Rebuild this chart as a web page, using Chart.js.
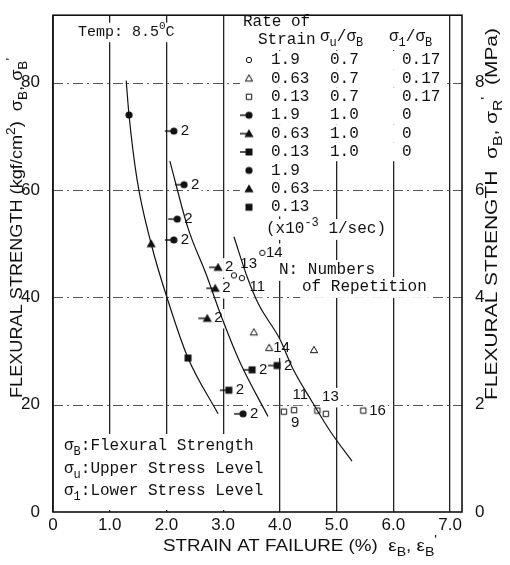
<!DOCTYPE html>
<html>
<head>
<meta charset="utf-8">
<script src="https://cdn.jsdelivr.net/npm/chart.js@4.4.1/dist/chart.umd.min.js"></script>
<style>
  body { margin: 0; background: #fff; }
  canvas { display: block; }
</style>
</head>
<body>
<canvas id="grafica" width="510" height="565"></canvas>
<script>
// ---- datos ----
// curvas ajustadas (a mano en el original)
const curvaAX = [1.29, 1.34, 1.48, 1.73, 2.06, 2.38, 2.91];
const curvaAY = [80.4, 74.0, 62.1, 50.0, 38.3, 28.7, 18.3];
const curvaBX = [2.06, 2.38, 2.70, 2.98, 3.30, 3.79];
const curvaBY = [65.4, 52.9, 44.3, 36.1, 27.8, 17.8];
const curvaCX = [3.19, 3.42, 3.62, 4.00, 4.22, 4.57, 4.89, 5.27];
const curvaCY = [51.3, 43.9, 38.8, 32.2, 26.9, 20.5, 15.0, 9.5];

// sigma_u/sigma_B = 0.7, sigma_1/sigma_B = 0.17 (simbolos huecos)
const circAbiertoX = [3.19, 3.33, 3.69];
const circAbiertoY = [44.1, 43.6, 48.3];
const triAbiertoX = [3.54, 3.81, 4.60];
const triAbiertoY = [33.5, 30.6, 30.2];
const cuadAbiertoX = [4.07, 4.25, 4.66, 4.81, 5.47];
const cuadAbiertoY = [18.7, 19.0, 18.9, 18.3, 18.9];

// sigma_u/sigma_B = 1.0, sigma_1/sigma_B = 0 (rellenos con rayita)
const circRayaX = [2.13, 2.31, 2.19, 2.13, 3.35];
const circRayaY = [71.0, 61.0, 54.6, 50.7, 18.3];
const circRayaN = [2, 2, 2, 2, 2];
const triRayaX = [2.91, 2.86, 2.72];
const triRayaY = [45.6, 41.7, 36.1];
const triRayaN = [2, 2, 2];
const cuadRayaX = [3.10, 3.51, 3.95];
const cuadRayaY = [22.7, 26.5, 27.3];
const cuadRayaN = [2, 2, 2];

// estaticos (rellenos)
const circLlenoX = [1.34], circLlenoY = [74.0];
const triLlenoX = [1.73], triLlenoY = [50.0];
const cuadLlenoX = [2.38], cuadLlenoY = [28.7];

// numeros de repeticion de los simbolos huecos
const notaTexto = ['13', '14', '11', '14', '11', '13', '9', '16'];
const notaX = [3.45, 3.90, 3.60, 4.03, 4.36, 4.89, 4.27, 5.72];
const notaY = [46.2, 48.3, 41.9, 30.6, 21.8, 21.4, 16.6, 18.9];

// ejes
const ticksX = [0, 1, 2, 3, 4, 5, 6, 7];
const ticksY = [0, 20, 40, 60, 80];
const ticksY2 = [0, 2, 4, 6, 8];

// tabla de leyenda
const leyendaVel = ['1.9', '0.63', '0.13', '1.9', '0.63', '0.13', '1.9', '0.63', '0.13'];
const leyendaSu = ['0.7', '0.7', '0.7', '1.0', '1.0', '1.0', '', '', ''];
const leyendaS1 = ['0.17', '0.17', '0.17', '0', '0', '0', '', '', ''];

const TINTA = '#111';
const pts = (xs, ys) => xs.map((x, i) => ({ x: x, y: ys[i] }));

// ---- marcadores ----
const marcador = (forma, lleno, raya) => {
    const c = document.createElement('canvas');
    c.width = 26; c.height = 26;
    const g = c.getContext('2d');
    const m = 13;
    g.strokeStyle = TINTA; g.fillStyle = TINTA;
    g.lineWidth = lleno ? 1.4 : 1;
    if (raya) {
        g.beginPath(); g.moveTo(m - 9, m); g.lineTo(m, m); g.stroke();
    }
    g.beginPath();
    if (forma === 'circ') {
        g.arc(m, m, lleno ? 3.6 : 2.7, 0, Math.PI * 2);
    } else if (forma === 'tri') {
        const r = lleno ? 4.6 : 3.6;
        g.moveTo(m, m - r); g.lineTo(m + r, m + r * 0.75); g.lineTo(m - r, m + r * 0.75); g.closePath();
    } else {
        const r = lleno ? 3.5 : 2.7;
        g.rect(m - r, m - r, r * 2, r * 2);
    }
    if (lleno) g.fill(); else g.stroke();
    return c;
};
const mk = {
    circAbierto: marcador('circ', false, false),
    triAbierto: marcador('tri', false, false),
    cuadAbierto: marcador('cuad', false, false),
    circRaya: marcador('circ', true, true),
    triRaya: marcador('tri', true, true),
    cuadRaya: marcador('cuad', true, true),
    circLleno: marcador('circ', true, false),
    triLleno: marcador('tri', true, false),
    cuadLleno: marcador('cuad', true, false)
};
const ordenLeyenda = ['circAbierto', 'triAbierto', 'cuadAbierto', 'circRaya', 'triRaya', 'cuadRaya', 'circLleno', 'triLleno', 'cuadLleno'];

// ---- texto con subindices ----
const MONO = 'Liberation Mono';
const SANS = 'Liberation Sans';
// paso: 'fondo' solo pinta el recuadro blanco, 'texto' solo las letras, sin paso ambas cosas
const texto = (ctx, partes, x, y, op) => {
    const t = op.size, fam = op.family || MONO;
    const fuente = k => (k === 'n' ? t : Math.round(t * 0.72)) + 'px "' + fam + '"';
    let w = 0;
    partes.forEach(([s, k]) => { ctx.font = fuente(k); w += ctx.measureText(s).width; });
    ctx.save();
    ctx.translate(x, y);
    if (op.rot) ctx.rotate(op.rot);
    if (op.ancho) ctx.scale(op.ancho / w, 1);
    let x0 = op.align === 'center' ? -w / 2 : 0;
    if (op.fondo && op.paso !== 'texto') {
        ctx.fillStyle = '#fff';
        ctx.fillRect(x0 - 2, -t * 0.62, w + 4, t * 1.3);
    }
    if (op.paso !== 'fondo') {
        ctx.fillStyle = TINTA;
        ctx.textBaseline = 'middle';
        ctx.textAlign = 'left';
        partes.forEach(([s, k]) => {
            ctx.font = fuente(k);
            const dy = k === 'sub' ? t * 0.36 : (k === 'sup' ? -t * 0.4 : 0);
            ctx.fillText(s, x0, dy);
            x0 += ctx.measureText(s).width;
        });
    }
    ctx.restore();
};

// numeros junto a los puntos (en dos pasos para no tapar los simbolos)
const etiquetas = (chart, paso) => {
    const { ctx, scales } = chart;
    const sx = scales.x, sy = scales.y;
    const numeros = (xs, ys, ns) => xs.forEach((x, i) => {
        texto(ctx, [[String(ns[i]), 'n']], sx.getPixelForValue(x) + 7, sy.getPixelForValue(ys[i]),
            { size: 15, family: SANS, fondo: true, paso: paso });
    });
    numeros(circRayaX, circRayaY, circRayaN);
    numeros(triRayaX, triRayaY, triRayaN);
    numeros(cuadRayaX, cuadRayaY, cuadRayaN);
    notaTexto.forEach((s, i) => {
        texto(ctx, [[s, 'n']], sx.getPixelForValue(notaX[i]), sy.getPixelForValue(notaY[i]),
            { size: 15, family: SANS, align: 'center', fondo: true, paso: paso });
    });
};

const decorado = {
    id: 'decorado',
    beforeDatasetsDraw(chart) {
        const { ctx, chartArea: a, scales } = chart;
        ctx.save();
        // lineas horizontales de trazo y punto
        ctx.strokeStyle = '#555';
        ctx.lineWidth = 1;
        ctx.setLineDash([10, 4, 2, 4]);
        ticksY.filter(v => v > 0).forEach(v => {
            const py = Math.round(scales.y.getPixelForValue(v)) + 0.5;
            ctx.beginPath(); ctx.moveTo(a.left, py); ctx.lineTo(a.right, py); ctx.stroke();
        });
        ctx.setLineDash([]);
        ctx.restore();
        etiquetas(chart, 'fondo');
    },
    afterDatasetsDraw(chart) {
        const { ctx, chartArea: a } = chart;

        etiquetas(chart, 'texto');

        // temperatura
        texto(ctx, [['Temp: 8.5', 'n'], ['0', 'sup'], ['C', 'n']], 78, 32, { size: 15, fondo: true });

        // tabla de leyenda
        ctx.fillStyle = '#fff';
        ctx.fillRect(236, 12, 210, 38);
        texto(ctx, [['Rate of', 'n']], 243, 22, { size: 16 });
        texto(ctx, [['Strain', 'n']], 258, 40, { size: 16 });
        texto(ctx, [['σ', 'n'], ['u', 'sub'], ['/σ', 'n'], ['B', 'sub']], 320, 37, { size: 16 });
        texto(ctx, [['σ', 'n'], ['1', 'sub'], ['/σ', 'n'], ['B', 'sub']], 389, 37, { size: 16 });
        leyendaVel.forEach((v, i) => {
            const y = 60 + i * 18.4;
            ctx.fillStyle = '#fff';
            if (leyendaSu[i]) ctx.fillRect(240, y - 9.2, 204, 18.4);
            else ctx.fillRect(240, y - 9.2, 66, 18.4);
            ctx.drawImage(mk[ordenLeyenda[i]], 249 - 13, y - 13);
            texto(ctx, [[v, 'n']], 271, y, { size: 16 });
            if (leyendaSu[i]) texto(ctx, [[leyendaSu[i], 'n']], 330, y, { size: 16 });
            if (leyendaS1[i]) texto(ctx, [[leyendaS1[i], 'n']], 402, y, { size: 16 });
        });
        texto(ctx, [['(x10', 'n'], ['-3', 'sup'], [' 1/sec)', 'n']], 266, 229, { size: 16, fondo: true });

        texto(ctx, [['N: Numbers', 'n']], 279, 270, { size: 16, fondo: true });
        texto(ctx, [['of Repetition', 'n']], 302, 287, { size: 16, fondo: true });

        // leyenda de simbolos abajo a la izquierda
        ctx.fillStyle = '#fff';
        ctx.fillRect(a.left + 2, 434, 222, 76);
        texto(ctx, [['σ', 'n'], ['B', 'sub'], [':Flexural Strength', 'n']], 64, 446, { size: 16 });
        texto(ctx, [['σ', 'n'], ['u', 'sub'], [':Upper Stress Level', 'n']], 64, 469, { size: 16 });
        texto(ctx, [['σ', 'n'], ['1', 'sub'], [':Lower Stress Level', 'n']], 64, 491, { size: 16 });

        // marco
        ctx.save();
        ctx.strokeStyle = TINTA;
        ctx.lineWidth = 1.6;
        ctx.strokeRect(a.left, a.top, a.right - a.left, a.bottom - a.top);
        ctx.restore();

        // titulos de ejes
        texto(ctx, [['FLEXURAL STRENGTH (kgf/cm', 'n'], ['2', 'sup'], [')  σ', 'n'], ['B', 'sub'], [', σ', 'n'], ['B', 'sub'], ["'", 'sup']],
            18, 228, { size: 16, family: SANS, align: 'center', rot: -Math.PI / 2, ancho: 340 });
        texto(ctx, [['FLEXURAL STRENGTH  σ', 'n'], ['B', 'sub'], [', σ', 'n'], ['R', 'sub'], ["'", 'sup'], ['  (MPa)', 'n']],
            493, 214, { size: 16, family: SANS, align: 'center', rot: -Math.PI / 2, ancho: 372 });
        texto(ctx, [['STRAIN AT FAILURE (%)  ε', 'n'], ['B', 'sub'], [', ε', 'n'], ['B', 'sub'], ["'", 'sup']],
            163, 547, { size: 16, family: SANS, ancho: 274 });
    }
};

const curva = (xs, ys) => ({
    type: 'line',
    data: pts(xs, ys),
    borderColor: TINTA,
    borderWidth: 1.2,
    pointRadius: 0,
    fill: false,
    cubicInterpolationMode: 'monotone'
});
const simbolos = (xs, ys, estilo) => ({
    type: 'scatter',
    data: pts(xs, ys),
    pointStyle: mk[estilo],
    pointRadius: 3,
    pointHoverRadius: 3
});

const ctx = document.getElementById('grafica').getContext('2d');
const chart = new Chart(ctx, {
    type: 'scatter',
    data: {
        datasets: [
            curva(curvaAX, curvaAY),
            curva(curvaBX, curvaBY),
            curva(curvaCX, curvaCY),
            simbolos(circAbiertoX, circAbiertoY, 'circAbierto'),
            simbolos(triAbiertoX, triAbiertoY, 'triAbierto'),
            simbolos(cuadAbiertoX, cuadAbiertoY, 'cuadAbierto'),
            simbolos(circRayaX, circRayaY, 'circRaya'),
            simbolos(triRayaX, triRayaY, 'triRaya'),
            simbolos(cuadRayaX, cuadRayaY, 'cuadRaya'),
            simbolos(circLlenoX, circLlenoY, 'circLleno'),
            simbolos(triLlenoX, triLlenoY, 'triLleno'),
            simbolos(cuadLlenoX, cuadLlenoY, 'cuadLleno')
        ]
    },
    options: {
        responsive: false,
        animation: false,
        devicePixelRatio: 1,
        layout: { padding: { top: 6, left: 0, right: 0, bottom: 0 } },
        plugins: { legend: { display: false }, tooltip: { enabled: false } },
        scales: {
            x: {
                type: 'linear', position: 'bottom', min: 0, max: 7.21,
                afterFit: s => { s.height = 53; },
                afterBuildTicks: s => { s.ticks = ticksX.map(v => ({ value: v })); },
                ticks: {
                    color: TINTA, padding: 3,
                    font: { family: SANS, size: 17 },
                    callback: v => v === 0 ? '0' : v.toFixed(1)
                },
                grid: { color: '#222', lineWidth: 1.3, drawTicks: false },
                border: { display: false }
            },
            y: {
                type: 'linear', position: 'left', min: 0, max: 92.6,
                afterFit: s => { s.width = 53; },
                afterBuildTicks: s => { s.ticks = ticksY.map(v => ({ value: v })); },
                ticks: { color: TINTA, padding: 5, font: { family: SANS, size: 17 } },
                grid: { display: false },
                border: { display: false }
            },
            y2: {
                type: 'linear', position: 'right', min: 0, max: 9.26,
                afterFit: s => { s.width = 48; },
                afterBuildTicks: s => { s.ticks = ticksY2.map(v => ({ value: v })); },
                ticks: { color: TINTA, padding: 5, font: { family: SANS, size: 17 } },
                grid: { display: false },
                border: { display: false }
            }
        }
    },
    plugins: [decorado]
});
</script>
</body>
</html>
